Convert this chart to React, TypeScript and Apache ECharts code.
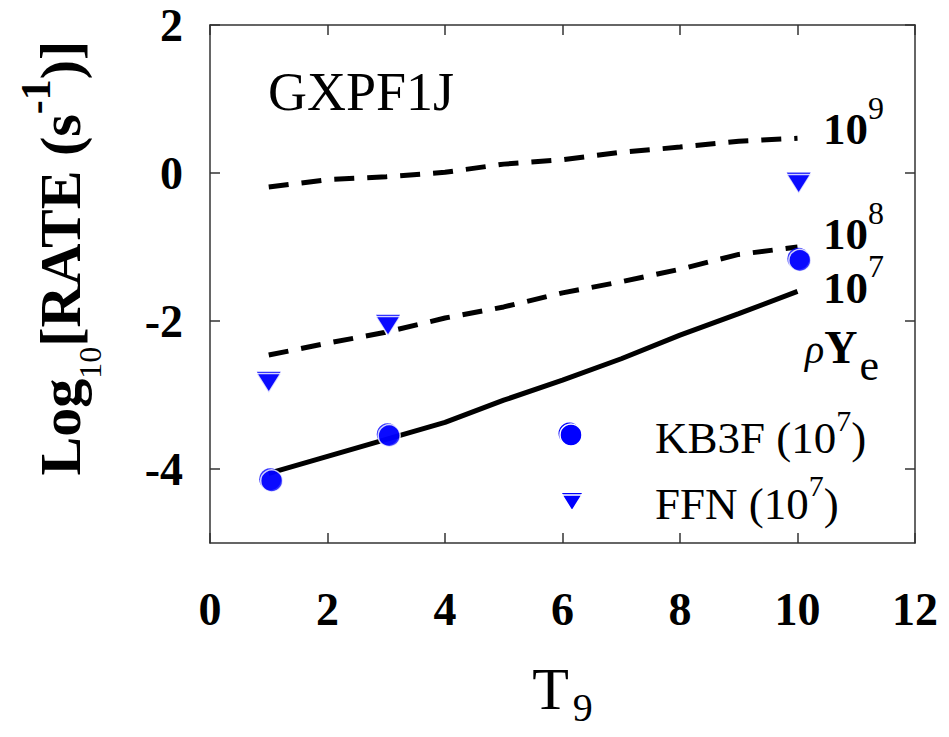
import React, { useEffect, useRef } from 'react';
import * as echarts from 'echarts';

// Temperature grid (T9) for the model curves
const T9 = [1, 2, 3, 4, 5, 6, 7, 8, 9, 10];
// log10 rate curves for rho*Ye = 1e9, 1e8, 1e7
const rate1e9 = [-0.19, -0.09, -0.05, 0.01, 0.12, 0.18, 0.28, 0.35, 0.43, 0.47];
const rate1e8 = [-2.46, -2.3, -2.15, -1.96, -1.81, -1.62, -1.47, -1.3, -1.1, -1.0];
const rate1e7 = [-4.06, -3.83, -3.6, -3.37, -3.07, -2.8, -2.51, -2.19, -1.9, -1.6];
// KB3F points (1e7)
const kb3fT = [1.05, 3.05, 10.04];
const kb3fRate = [-4.16, -3.55, -1.18];
// FFN points (1e7)
const ffnT = [1.0, 3.03, 10.02];
const ffnRate = [-2.84, -2.07, -0.15];
// Tick values
const yTickValues = [-4, -2, 0, 2];

const FONT = '"Liberation Serif", "Times New Roman", "DejaVu Serif", serif';
const BLUE = '#0000ff';
const FRAME = '#333333';

const pairs = (xs: number[], ys: number[]) => xs.map((x, i) => [x, ys[i]]);

const TRI = 'path://M0,0L20,0L10,17Z';

export default function App() {
  const ref = useRef<HTMLDivElement>(null);

  useEffect(() => {
    const chart = echarts.init(ref.current!, null, { renderer: 'svg' });

    const axisLine = { show: true, onZero: false, lineStyle: { color: FRAME, width: 1.5 } };
    const axisTick = { show: true, inside: true, length: 10, lineStyle: { color: FRAME, width: 1.5 } };
    const tickLabel = { fontFamily: FONT, fontSize: 46, fontWeight: 'bold' as const, color: '#000' };

    // text with a superscript: main token padded down by pMain
    const supText = (
      x: number,
      top: number,
      main: string,
      sup: string,
      tail: string,
      mainFont: any,
      supFont: any,
      pMain: number,
    ) => ({
      type: 'text',
      x,
      y: top,
      style: {
        text: `{m|${main}}{p|${sup}}` + (tail ? `{m|${tail}}` : ''),
        align: 'left',
        verticalAlign: 'top',
        rich: {
          m: { fontFamily: FONT, verticalAlign: 'top', padding: [pMain, 0, 0, 0], fill: '#000', ...mainFont },
          p: { fontFamily: FONT, verticalAlign: 'top', fill: '#000', ...supFont },
        },
      },
      z: 10,
    });

    const option: any = {
      animation: false,
      backgroundColor: '#ffffff',
      grid: { left: 210, right: 34, top: 25, bottom: 194, containLabel: false, outerBoundsMode: 'none' },
      xAxis: [
        {
          type: 'value',
          min: 0,
          max: 12,
          interval: 2,
          position: 'bottom',
          axisLine,
          axisTick,
          splitLine: { show: false },
          axisLabel: { ...tickLabel, margin: 43, showMinLabel: true, showMaxLabel: true },
          name: '{t|T}{s|9}',
          nameLocation: 'middle',
          nameGap: 116,
          nameTextStyle: {
            fontFamily: FONT,
            color: '#000',
            rich: {
              t: { fontFamily: FONT, fontSize: 60, verticalAlign: 'top', color: '#000' },
              s: { fontFamily: FONT, fontSize: 40, verticalAlign: 'top', padding: [28, 0, 0, 4], color: '#000' },
            },
          },
        },
        {
          type: 'value',
          min: 0,
          max: 12,
          interval: 2,
          position: 'top',
          axisLine,
          axisTick,
          splitLine: { show: false },
          axisLabel: { show: false },
        },
      ],
      yAxis: [
        {
          type: 'value',
          min: -5,
          max: 2,
          position: 'left',
          axisLine,
          axisTick: { ...axisTick, customValues: yTickValues },
          splitLine: { show: false },
          axisLabel: { ...tickLabel, margin: 27, customValues: yTickValues },
        },
        {
          type: 'value',
          min: -5,
          max: 2,
          position: 'right',
          axisLine,
          axisTick: { ...axisTick, customValues: yTickValues },
          splitLine: { show: false },
          axisLabel: { show: false },
        },
      ],
      series: [
        {
          name: '1e9',
          type: 'line',
          data: pairs(T9, rate1e9),
          symbol: 'none',
          lineStyle: { color: '#000', width: 5, type: [20, 13], cap: 'butt' },
          z: 2,
        },
        {
          name: '1e8',
          type: 'line',
          data: pairs(T9, rate1e8),
          symbol: 'none',
          lineStyle: { color: '#000', width: 5, type: [20, 13], cap: 'butt' },
          z: 2,
        },
        {
          name: '1e7',
          type: 'line',
          data: pairs(T9, rate1e7),
          symbol: 'none',
          lineStyle: { color: '#000', width: 5, type: 'solid' },
          z: 2,
        },
        {
          name: 'KB3F base',
          type: 'scatter',
          data: pairs(kb3fT, kb3fRate),
          symbol: 'circle',
          symbolSize: 22,
          symbolOffset: [-1.5, -1.5],
          itemStyle: { color: BLUE },
          z: 5,
        },
        {
          name: 'KB3F (10^7)',
          type: 'scatter',
          data: pairs(kb3fT, kb3fRate),
          symbol: 'circle',
          symbolSize: 22,
          itemStyle: { color: BLUE, borderColor: '#fff', borderWidth: 1.5 },
          z: 6,
        },
        {
          name: 'FFN base',
          type: 'scatter',
          data: pairs(ffnT, ffnRate),
          symbol: TRI,
          symbolSize: [24, 19],
          symbolOffset: [0, -2],
          itemStyle: { color: BLUE },
          z: 5,
        },
        {
          name: 'FFN (10^7)',
          type: 'scatter',
          data: pairs(ffnT, ffnRate),
          symbol: TRI,
          symbolSize: [24, 19],
          itemStyle: { color: BLUE, borderColor: '#fff', borderWidth: 1.5 },
          z: 6,
        },
      ],
      graphic: [
        // y-axis title (rotated, local top toward screen left)
        {
          type: 'text',
          x: 15,
          y: 258,
          rotation: Math.PI / 2,
          style: {
            text: '{m|Log}{b|10}{m|[RATE (s}{p|-1}{m|)]}',
            align: 'center',
            verticalAlign: 'top',
            rich: {
              m: { fontFamily: FONT, fontSize: 58, fontWeight: 'bold', verticalAlign: 'top', padding: [16, 0, 0, 0], fill: '#000' },
              b: { fontFamily: FONT, fontSize: 32, verticalAlign: 'top', padding: [59, 0, 0, 0], fill: '#000' },
              p: { fontFamily: FONT, fontSize: 42, fontWeight: 'bold', verticalAlign: 'top', fill: '#000' },
            },
          },
          z: 10,
        },
        // model label
        {
          type: 'text',
          x: 268,
          y: 92,
          style: { text: 'GXPF1J', fontFamily: FONT, fontSize: 54, fill: '#000', align: 'left', verticalAlign: 'middle' },
          z: 10,
        },
        // curve labels
        supText(823, 92, '10', '9', '', { fontSize: 45, fontWeight: 'bold' }, { fontSize: 32 }, 14),
        supText(823, 197, '10', '8', '', { fontSize: 45, fontWeight: 'bold' }, { fontSize: 32 }, 14),
        supText(823, 250, '10', '7', '', { fontSize: 45, fontWeight: 'bold' }, { fontSize: 32 }, 15),
        {
          type: 'text',
          x: 805,
          y: 324,
          style: {
            text: '{r|ρ}{y|Y}{e|e}',
            align: 'left',
            verticalAlign: 'top',
            rich: {
              r: { fontFamily: FONT, fontSize: 40, fontStyle: 'italic', verticalAlign: 'top', padding: [5, 0, 0, 0], fill: '#000' },
              y: { fontFamily: FONT, fontSize: 46, fontWeight: 'bold', verticalAlign: 'top', fill: '#000' },
              e: { fontFamily: FONT, fontSize: 44, verticalAlign: 'top', padding: [19, 0, 0, 2], fill: '#000' },
            },
          },
          z: 10,
        },
        // legend markers
        { type: 'circle', shape: { cx: 569.5, cy: 433.5, r: 11 }, style: { fill: BLUE }, z: 10 },
        { type: 'circle', shape: { cx: 571, cy: 435, r: 11 }, style: { fill: BLUE, stroke: '#fff', lineWidth: 1.5 }, z: 11 },
        { type: 'polygon', shape: { points: [[562, 493], [582, 493], [572, 509]] }, style: { fill: BLUE }, z: 10 },
        { type: 'polygon', shape: { points: [[562, 495], [582, 495], [572, 511]] }, style: { fill: BLUE, stroke: '#fff', lineWidth: 1.5 }, z: 11 },
        // legend texts
        supText(655, 405, 'KB3F (10', '7', ')', { fontSize: 45 }, { fontSize: 30 }, 10),
        supText(655, 470, 'FFN (10', '7', ')', { fontSize: 45 }, { fontSize: 30 }, 11),
      ],
    };

    chart.setOption(option);
    return () => chart.dispose();
  }, []);

  return (
    <div
      ref={ref}
      style={{ position: 'fixed', left: 0, top: 0, width: 949, height: 737, background: '#fff' }}
    />
  );
}
